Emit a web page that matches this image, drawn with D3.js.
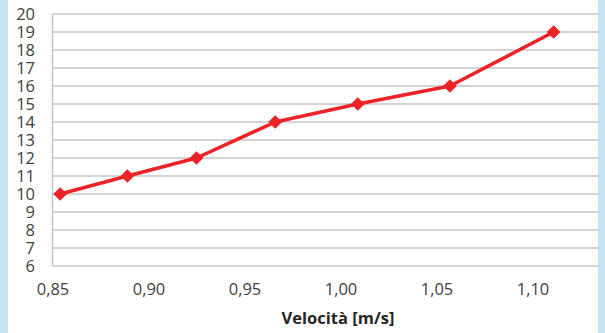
<!DOCTYPE html>
<html>
<head>
<meta charset="utf-8">
<script src="https://cdn.jsdelivr.net/npm/d3@7"></script>
<style>
  body { margin: 0; background: #c6e3ed; }
  #chart-container { width: 605px; height: 333px; }
</style>
</head>
<body>
<div id="chart-container"></div>
<script>

var velocita = [0.854, 0.889, 0.925, 0.966, 1.009, 1.057, 1.111]
var valori = [10, 11, 12, 14, 15, 16, 19]
var xTicks = [0.85, 0.90, 0.95, 1.00, 1.05, 1.10]
var yTicks = [6, 7, 8, 9, 10, 11, 12, 13, 14, 15, 16, 17, 18, 19, 20]
var xTitle = 'Velocità [m/s]'

var width = 605, height = 333

var svg = d3.select('#chart-container')
  .append('svg')
  .attr('width', width)
  .attr('height', height)

// white panel between the blue side strips
svg.append('rect')
  .attr('x', 8)
  .attr('y', 0)
  .attr('width', 590)
  .attr('height', height)
  .attr('fill', 'white')

var plot = {left: 52.5, right: 598, top: 14, bottom: 266}

var x = d3.scaleLinear()
  .domain([0.85, 0.85 + (plot.right - plot.left) / 1920])
  .range([plot.left, plot.right])

var y = d3.scaleLinear()
  .domain([6, 20])
  .range([plot.bottom, plot.top])

var fmt = function(d){ return d3.format('.2f')(d).replace('.', ',') }

// horizontal grid
svg.append('g')
  .attr('class', 'grid')
  .selectAll('line')
  .data(yTicks)
  .enter().append('line')
    .attr('x1', plot.left)
    .attr('x2', plot.right)
    .attr('y1', function(d){ return y(d) })
    .attr('y2', function(d){ return y(d) })
    .attr('stroke', '#c4c4c4')
    .attr('stroke-width', 1.5)

// left axis line
svg.append('line')
  .attr('x1', plot.left)
  .attr('x2', plot.left)
  .attr('y1', plot.top)
  .attr('y2', plot.bottom)
  .attr('stroke', '#c4c4c4')
  .attr('stroke-width', 1.5)

var yAxis = svg.append('g')
  .attr('transform', 'translate(' + (plot.left - 17.5) + ',0)')
  .call(d3.axisLeft(y).tickValues(yTicks).tickSize(0).tickPadding(0))
yAxis.select('.domain').remove()
yAxis.selectAll('text')
  .attr('dy', '0.36em')
  .style('font-family', '"Open Sans", sans-serif')
  .style('font-size', '16.5px')
  .style('fill', '#404040')

var xAxis = svg.append('g')
  .attr('transform', 'translate(0,' + (plot.bottom + 17) + ')')
  .call(d3.axisBottom(x).tickValues(xTicks).tickFormat(fmt).tickSize(0).tickPadding(0))
xAxis.select('.domain').remove()
xAxis.selectAll('text')
  .style('font-family', '"Open Sans", sans-serif')
  .style('font-size', '16.5px')
  .style('fill', '#404040')

svg.append('text')
  .attr('x', 338)
  .attr('y', 324)
  .attr('text-anchor', 'middle')
  .text(xTitle)
  .style('font-family', '"Open Sans", sans-serif')
  .style('font-weight', 'bold')
  .style('font-size', '16.5px')
  .style('fill', '#262626')

var pts = velocita.map(function(v, i){ return [v, valori[i]] })

var line = d3.line()
  .x(function(d){ return x(d[0]) })
  .y(function(d){ return y(d[1]) })

svg.append('path')
  .datum(pts)
  .attr('d', line)
  .attr('fill', 'none')
  .attr('stroke', '#ec2227')
  .attr('stroke-width', 3.5)
  .attr('stroke-linejoin', 'round')

svg.append('g')
  .selectAll('path')
  .data(pts)
  .enter().append('path')
    .attr('d', d3.symbol().type(d3.symbolDiamond2).size(120))
    .attr('transform', function(d){ return 'translate(' + x(d[0]) + ',' + y(d[1]) + ')' })
    .attr('fill', '#ec2227')

</script>
</body>
</html>
